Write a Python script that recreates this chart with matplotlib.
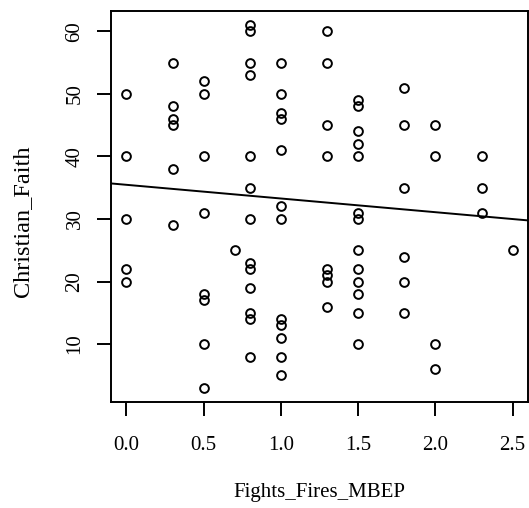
import matplotlib
matplotlib.use("Agg")
import matplotlib.pyplot as plt
import numpy as np

# Fights_Fires_MBEP score and the Christian_Faith values observed at each score
fights_levels = [0.0, 0.3, 0.5, 0.7, 0.8, 1.0, 1.3, 1.5, 1.8, 2.0, 2.3, 2.5]
faith_by_level = [
    [50, 40, 30, 22, 20],
    [55, 48, 46, 45, 38, 29],
    [52, 50, 40, 31, 18, 17, 10, 3],
    [25],
    [61, 60, 55, 53, 40, 35, 30, 23, 22, 19, 15, 14, 8],
    [55, 50, 47, 46, 41, 32, 30, 14, 13, 11, 8, 5],
    [60, 55, 45, 40, 22, 21, 20, 16],
    [49, 48, 44, 42, 40, 31, 30, 25, 22, 20, 18, 15, 10],
    [51, 45, 35, 24, 20, 15],
    [45, 40, 10, 6],
    [40, 35, 31],
    [25],
]

# fitted line (abline coefficients)
fit_intercept = 35.47
fit_slope = -2.19

x_ticks = [0.0, 0.5, 1.0, 1.5, 2.0, 2.5]
y_ticks = [10, 20, 30, 40, 50, 60]

x = np.concatenate([[lv] * len(vals) for lv, vals in zip(fights_levels, faith_by_level)])
y = np.concatenate([np.asarray(v, dtype=float) for v in faith_by_level])

plt.rcParams["font.family"] = ["Liberation Serif", "DejaVu Serif"]
fs = 15

W, H = 529, 508
fig = plt.figure(figsize=(W / 100, H / 100), dpi=100)
ax = fig.add_axes([111 / W, 1 - 402.3 / H, (528 - 111) / W, (402.3 - 10.7) / H])

ax.plot(x, y, linestyle="none", marker="o", markersize=6.3,
        markerfacecolor="none", markeredgecolor="black", markeredgewidth=1.4)

# axis ranges with 4% padding on each side
xr = max(x) - min(x)
yr = max(y) - min(y)
ax.set_xlim(min(x) - 0.04 * xr, max(x) + 0.04 * xr)
ax.set_ylim(min(y) - 0.04 * yr, max(y) + 0.04 * yr)

xs = np.array(ax.get_xlim())
ax.plot(xs, fit_intercept + fit_slope * xs, color="black", linewidth=1.4)

for s in ax.spines.values():
    s.set_linewidth(1.4)

ax.set_xticks(x_ticks)
ax.set_xticklabels([f"{t:.1f}" for t in x_ticks], fontsize=fs)
ax.set_yticks(y_ticks)
ax.set_yticklabels([str(t) for t in y_ticks], fontsize=fs, rotation=90, va="center")
ax.tick_params(axis="both", direction="out", length=10, width=1.4)
ax.tick_params(axis="x", pad=14)
ax.tick_params(axis="y", pad=9)

fig.text((111 + 528) / 2 / W, 1 - 493 / H, "Fights_Fires_MBEP", fontsize=fs,
         ha="center", va="center")
fig.text(23 / W, 1 - 221 / H, "Christian_Faith", fontsize=17.5,
         ha="center", va="center", rotation=90)

fig.savefig("out.png", dpi=100)
